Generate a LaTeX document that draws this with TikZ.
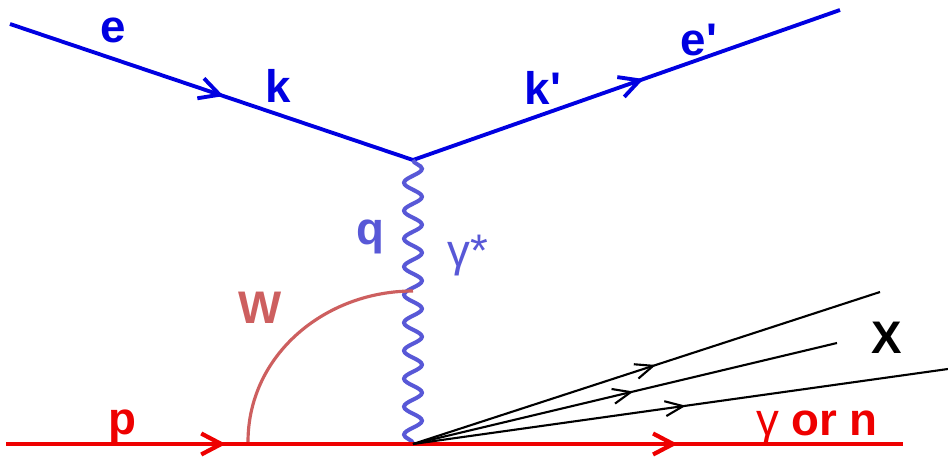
\documentclass[tikz,border=0pt]{standalone}
\usepackage{fontspec}
\setmainfont{Liberation Sans}
\usetikzlibrary{arrows.meta,decorations.pathmorphing,decorations.markings}

\definecolor{elecblue}{RGB}{0,0,225}
\definecolor{photblue}{RGB}{88,88,215}
\definecolor{protred}{RGB}{238,0,0}
\definecolor{wred}{RGB}{205,95,95}

\begin{document}
\begin{tikzpicture}[
    x=0.02cm, y=-0.02cm,
    font=\fontsize{26}{30}\selectfont\bfseries,
    midarrow/.style={
        postaction={decorate, decoration={markings,
            mark=at position #1 with {\arrow{Straight Barb[length=0.4cm,width=0.42cm]}}}}
    },
    smallarrow/.style={
        postaction={decorate, decoration={markings,
            mark=at position #1 with {\arrow{Straight Barb[length=0.36cm,width=0.3cm]}}}}
    },
    electron/.style={draw=elecblue, line width=2.2pt},
    proton/.style={draw=protred, line width=2.4pt},
    photon/.style={
        draw=photblue,
        line width=2.3pt,
        decorate,
        decoration={snake, segment length=0.56cm, amplitude=0.18cm}
    },
    hadron/.style={draw=black, line width=1.2pt},
    warc/.style={draw=wred, line width=1.8pt},
    lbl/.style={inner sep=0pt}
]
\useasboundingbox (0,0) rectangle (948,459);

% Vertices and line ends
\coordinate (ein)  at (10,24);
\coordinate (vtop) at (413,160);
\coordinate (eout) at (840,10);
\coordinate (pin)  at (6,444);
\coordinate (vbot) at (413,444);
\coordinate (pout) at (903,444);
\coordinate (xone)   at (880,292);
\coordinate (xtwo)   at (837,343);
\coordinate (xthree) at (948,369);
\coordinate (wfoot) at (248,442);
\coordinate (wtop)  at (413,291);

% Electron lines
\draw[electron, midarrow=0.53] (ein) -- (vtop);
\draw[electron, midarrow=0.54] (vtop) -- (eout);

% Virtual photon
\draw[photon] (vtop) -- (vbot);

% Proton and outgoing gamma / n
\draw[proton, midarrow=0.54] (pin) -- (vbot);
\draw[proton, midarrow=0.54] (vbot) -- (pout);

% Hadronic system X
\draw[hadron, smallarrow=0.52] (vbot) -- (xone);
\draw[hadron, smallarrow=0.52] (vbot) -- (xtwo);
\draw[hadron, smallarrow=0.51] (vbot) -- (xthree);

% W arc
\draw[warc] (wfoot) to[out=90, in=180] (wtop);

% Labels
\node[lbl, text=elecblue] (lab-e)  at (113,30) {e};
\node[lbl, text=elecblue] (lab-k)  at (278,86) {k};
\node[lbl, text=elecblue] (lab-kp) at (543,88) {k\textquotesingle};
\node[lbl, text=elecblue] (lab-ep) at (699,40) {e\textquotesingle};
\node[lbl, text=photblue] (lab-q)  at (370,237) {q};
\node[lbl, text=photblue, font=\fontsize{26}{30}\selectfont] (lab-gs) at (468,256) {γ*};
\node[lbl, text=wred] (lab-w) at (260,308) {W};
\node[lbl, text=protred] (lab-p) at (122,427) {p};
\node[lbl, text=protred] (lab-gn) at (817,428) {{\mdseries γ} or n};
\node[lbl, text=black] (lab-x) at (887,338) {X};
\end{tikzpicture}
\end{document}
